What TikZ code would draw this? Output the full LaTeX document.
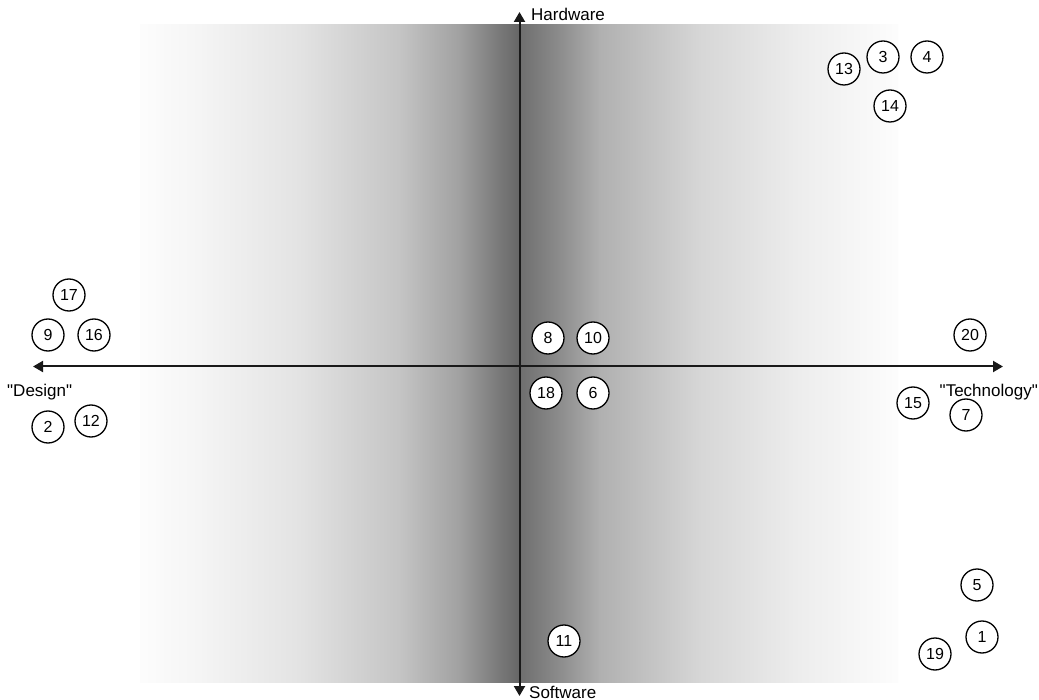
\documentclass[tikz,border=0pt]{standalone}
\usepackage{fontspec}
\setmainfont{Liberation Sans}
\newfontfamily\lsans{Liberation Sans}
\usetikzlibrary{arrows.meta}
\begin{document}
\begin{tikzpicture}[x=1pt,y=-1pt,
  pt/.style={circle,draw=black,line width=1.3pt,fill=white,minimum size=32pt,inner sep=0pt,font=\lsans\fontsize{16}{16}\selectfont},
  axislbl/.style={inner sep=0pt,font=\lsans\fontsize{17}{17}\selectfont},
  axisline/.style={line width=2pt,draw=black!90,-{Triangle[width=11pt,length=10pt]}}]
\useasboundingbox (0,0) rectangle (1039,700);
\fill[white] (0,0) rectangle (1039,700);
% gradient background
\shade[left color=black!1, right color=black!4] (140,25) rectangle (200,682);
\shade[left color=black!4, right color=black!11] (199.5,25) rectangle (300,682);
\shade[left color=black!11, right color=black!23] (299.5,25) rectangle (400,682);
\shade[left color=black!23, right color=black!37] (399.5,25) rectangle (460,682);
\shade[left color=black!37, right color=black!49] (459.5,25) rectangle (490,682);
\shade[left color=black!49, right color=black!60] (489.5,25) rectangle (519.5,682);
\shade[left color=black!57, right color=black!45] (519,25) rectangle (560,682);
\shade[left color=black!45, right color=black!31] (559.5,25) rectangle (600,682);
\shade[left color=black!31, right color=black!16] (599.5,25) rectangle (700,682);
\shade[left color=black!16, right color=black!7] (699.5,25) rectangle (800,682);
\shade[left color=black!7, right color=black!1] (799.5,25) rectangle (898,682);
% axes
\coordinate (O) at (519.5,366.5);
\coordinate (L) at (33,366.5);
\coordinate (R) at (1003,366.5);
\coordinate (T) at (519.5,12);
\coordinate (B) at (519.5,696);
\draw[axisline] (O) -- (L);
\draw[axisline] (O) -- (R);
\draw[axisline] (O) -- (T);
\draw[axisline] (O) -- (B);
% points
\node[pt] (p13) at (844,69) {13};
\node[pt] (p3) at (883,57) {3};
\node[pt] (p4) at (927,57) {4};
\node[pt] (p14) at (890,106) {14};
\node[pt] (p17) at (69,295) {17};
\node[pt] (p9) at (48,335) {9};
\node[pt] (p16) at (94,335) {16};
\node[pt] (p2) at (48,427) {2};
\node[pt] (p12) at (91,421) {12};
\node[pt] (p8) at (548,338) {8};
\node[pt] (p10) at (593,338) {10};
\node[pt] (p18) at (546,393) {18};
\node[pt] (p6) at (593,393) {6};
\node[pt] (p20) at (970,335) {20};
\node[pt] (p15) at (913,403) {15};
\node[pt] (p7) at (966,415) {7};
\node[pt] (p5) at (977,585) {5};
\node[pt] (p1) at (982,637) {1};
\node[pt] (p19) at (935,654) {19};
\node[pt] (p11) at (564,641) {11};
% labels
\node[axislbl,anchor=base west] (hw) at (531,21) {Hardware};
\node[axislbl,anchor=base west] (sw) at (529,698) {Software};
\node[axislbl,anchor=base west] (ds) at (7,397) {"Design"};
\node[axislbl,anchor=base east] (tc) at (1038,397) {"Technology"};
\end{tikzpicture}
\end{document}
